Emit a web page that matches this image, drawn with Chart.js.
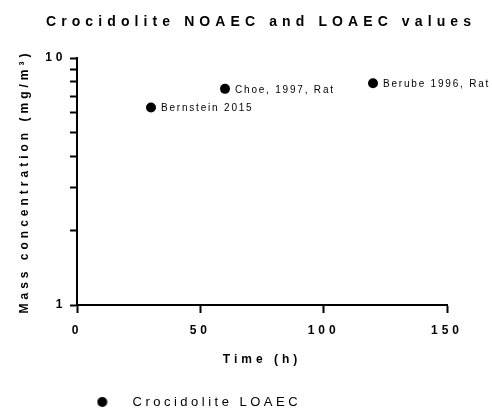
<!DOCTYPE html>
<html lang="en">
<head>
<meta charset="UTF-8">
<title>Crocidolite NOAEC and LOAEC values</title>
<style>
    html, body { margin: 0; padding: 0; background: #fff; }
</style>
</head>
<body>
<canvas id="myChart" width="492" height="409"></canvas>

<script src="https://cdn.jsdelivr.net/npm/chart.js@4/dist/chart.umd.min.js"></script>
<script>
    // data
    var studies = ['Bernstein 2015', 'Choe, 1997, Rat', 'Berube 1996, Rat'];
    var timeHours = [30, 60, 120];
    var loaecValues = [6.3, 7.5, 7.9];
    var xTicks = [0, 50, 100, 150];
    var yTicks = [1, 2, 3, 4, 5, 6, 7, 8, 9, 10];
    var yTickLabels = [1, 10];

    var FONT = "'Liberation Sans', Arial, Helvetica, sans-serif";
    Chart.defaults.font.family = FONT;
    Chart.defaults.color = '#000';

    // Prism-style spaced-out lettering: wrap the draw methods of the boxes
    function spaceText(obj, method, px, widen) {
        if (!obj || obj['_sp_' + method]) return;
        var orig = obj[method];
        obj[method] = function () {
            var ctx = this.ctx;
            var l = this.left, r = this.right;
            if (widen) {
                // title is squeezed by maxWidth otherwise
                this.left = widen[0];
                this.right = widen[1];
            }
            ctx.save();
            ctx.letterSpacing = px;
            orig.apply(this, arguments);
            ctx.restore();
            this.left = l;
            this.right = r;
        };
        obj['_sp_' + method] = true;
    }

    var spacing = {
        id: 'spacing',
        beforeDraw: function (chart) {
            spaceText(chart.titleBlock, 'draw', '5.1px', [15, 507]);
            spaceText(chart.legend, 'draw', '3.5px');
            spaceText(chart.scales.x, 'drawLabels', '4px');
            spaceText(chart.scales.x, 'drawTitle', '4px');
            spaceText(chart.scales.y, 'drawLabels', '4px');
            spaceText(chart.scales.y, 'drawTitle', '4px');
        }
    };

    // study names next to each point
    var pointLabels = {
        id: 'pointLabels',
        afterDatasetsDraw: function (chart) {
            var ctx = chart.ctx;
            var meta = chart.getDatasetMeta(0);
            ctx.save();
            ctx.letterSpacing = '1.8px';
            ctx.font = '10px ' + FONT;
            ctx.fillStyle = '#000';
            ctx.textAlign = 'left';
            ctx.textBaseline = 'middle';
            meta.data.forEach(function (pt, i) {
                ctx.fillText(studies[i], pt.x + 10, pt.y + 1);
            });
            ctx.restore();
        }
    };

    // legend marker sits further left of the text than Chart.js puts it
    var legendDot = document.createElement('canvas');
    legendDot.width = 20;
    legendDot.height = 12;
    var dctx = legendDot.getContext('2d');
    dctx.fillStyle = '#000';
    dctx.beginPath();
    dctx.arc(5.8, 6, 5, 0, Math.PI * 2);
    dctx.fill();

    var points = timeHours.map(function (t, i) {
        return { x: t, y: loaecValues[i] };
    });

    var ctx = document.getElementById('myChart').getContext('2d');
    var myChart = new Chart(ctx, {
        type: 'scatter',
        data: {
            datasets: [{
                label: 'Crocidolite LOAEC',
                data: points,
                backgroundColor: '#000',
                borderColor: '#000',
                borderWidth: 0,
                pointRadius: 5,
                pointHoverRadius: 5,
                pointStyle: 'circle'
            }]
        },
        options: {
            responsive: false,
            animation: false,
            devicePixelRatio: 1,
            layout: {
                padding: { left: 0, right: 45, top: 0, bottom: -9.5 }
            },
            plugins: {
                title: {
                    display: true,
                    fullSize: false,
                    text: 'Crocidolite NOAEC and LOAEC values',
                    color: '#000',
                    font: { size: 14, weight: 'bold' },
                    padding: { top: 14, bottom: 27.2 }
                },
                legend: {
                    position: 'bottom',
                    align: 'start',
                    fullSize: false,
                    labels: {
                        usePointStyle: true,
                        pointStyle: legendDot,
                        pointStyleWidth: 39,
                        padding: 10,
                        color: '#000',
                        font: { size: 13 }
                    }
                },
                tooltip: { enabled: false }
            },
            scales: {
                x: {
                    type: 'linear',
                    min: 0,
                    max: 150,
                    afterBuildTicks: function (scale) {
                        scale.ticks = xTicks.map(function (v) { return { value: v }; });
                    },
                    afterFit: function (scale) { scale.height = 80.5; },
                    grid: {
                        drawOnChartArea: false,
                        tickLength: 8,
                        tickWidth: 2,
                        tickColor: '#000'
                    },
                    border: { color: '#000', width: 2 },
                    ticks: {
                        padding: 10.5,
                        color: '#000',
                        font: { size: 12, weight: 'bold' }
                    },
                    title: {
                        display: true,
                        text: 'Time (h)',
                        color: '#000',
                        font: { size: 12, weight: 'bold' },
                        padding: { top: 0, bottom: 19 }
                    }
                },
                y: {
                    type: 'logarithmic',
                    min: 1,
                    max: 10,
                    afterBuildTicks: function (scale) {
                        scale.ticks = yTicks.map(function (v) { return { value: v }; });
                    },
                    afterFit: function (scale) { scale.width = 77; },
                    grid: {
                        drawOnChartArea: false,
                        tickLength: 7,
                        tickWidth: 2,
                        tickColor: '#000'
                    },
                    border: { color: '#000', width: 2 },
                    ticks: {
                        padding: 3.5,
                        autoSkip: false,
                        color: '#000',
                        font: { size: 12, weight: 'bold' },
                        callback: function (v) {
                            for (var i = 0; i < yTickLabels.length; i++) {
                                if (Math.abs(yTickLabels[i] - v) < 1e-9) return String(yTickLabels[i]);
                            }
                            return '';
                        }
                    },
                    title: {
                        display: true,
                        text: 'Mass concentration (mg/m\u00B3)',
                        color: '#000',
                        font: { size: 12, weight: 'bold' },
                        padding: { top: 17.8, bottom: 0 }
                    }
                }
            }
        },
        plugins: [spacing, pointLabels]
    });
</script>
</body>
</html>
